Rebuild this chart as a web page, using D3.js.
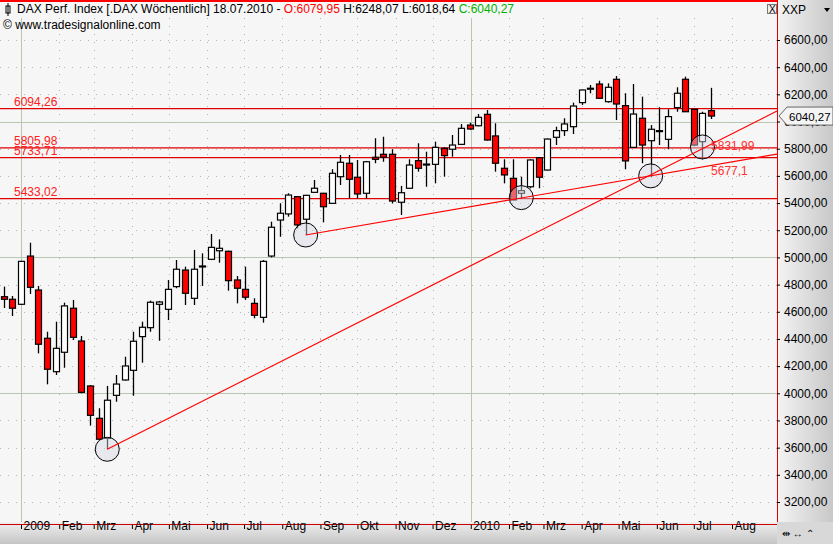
<!DOCTYPE html>
<html><head><meta charset="utf-8">
<script src="https://cdn.jsdelivr.net/npm/d3@7"></script>
<style>body{margin:0;background:#fff}svg{display:block;font-family:"Liberation Sans Narrow","Liberation Sans",Arial,sans-serif}</style>
</head><body><svg id="c" width="833" height="544"></svg>
<script>
const opens=[4711,4692,4655,5010,4760,4405,4159,4302,4626,4385,4054,3816,3669,3985,4098,4169,4417,4483,4655,4618,4785,4907,4699,4930,4986,5049,5045,4834,4765,4662,4559,5010,5275,5320,5447,5281,5479,5472,5398,5594,5693,5590,5472,5737,5759,5759,5406,5509,5712,5680,5685,5803,5796,5832,5974,5969,6053,5894,5656,5582,5472,5520,5734,5643,5884,5933,5962,6139,6240,6276,6146,6311,6117,5810,6024,5859,5930,5869,6102,6311,6090,5852,6079.95];
const highs=[4785,4716,4975,5108,4790,4453,4527,4667,4687,4422,4060,3890,4054,4135,4269,4453,4527,4682,4680,4834,4981,4932,5055,5030,5172,5133,5050,4863,4932,4699,4980,5263,5398,5472,5450,5460,5570,5475,5649,5754,5754,5717,5710,5877,5888,5796,5526,5722,5840,5778,5852,5810,5901,5982,5991,6055,6085,5987,5722,5722,5594,5722,5737,5875,5962,6024,6139,6235,6269,6300,6281,6335,6208,6276,6183,5974,6105,6090,6252,6330,6095,6072,6248.07];
const lows=[4628,4569,4650,4731,4294,4066,4135,4188,4392,4000,3762,3655,3588,3938,4093,3982,4225,4453,4387,4539,4773,4650,4650,4790,4980,4961,4755,4662,4687,4552,4520,5000,5152,5300,5214,5165,5475,5258,5395,5533,5435,5435,5435,5693,5704,5398,5312,5505,5631,5520,5545,5594,5741,5827,5938,5965,5860,5631,5545,5420,5430,5509,5509,5640,5827,5894,5908,6122,6208,6168,6139,6011,5649,5805,5693,5590,5827,5796,6072,6070,5822,5722,6018.64];
const closes=[4692,4626,4971,4780,4361,4177,4331,4643,4412,4007,3838,3662,3949,4068,4201,4383,4486,4670,4672,4765,4913,4736,4913,4937,5074,5067,4829,4773,4707,4574,4971,5222,5325,5459,5239,5457,5509,5373,5619,5700,5575,5467,5704,5722,5737,5415,5476,5680,5656,5687,5810,5749,5827,5950,5945,6031,5864,5693,5607,5423,5491,5717,5590,5871,5933,5982,6114,6232,6245,6171,6252,6129,5710,6055,5827,5943,5933,6036,6208,6072,5827,6060,6040.27];
const hLevels=[6094.26,5805.98,5733.71,5433.02];
const hLabels=["6094,26","5805,98","5733,71","5433,02"];
const trendFromIdx=[12,35], trendFromVal=[3588,5165], trendToVal=[5831.99,5677.1];
const trendLabels=["5831,99","5677,1"];
const circleIdx=[12,35,60,75,81], circleVals=[3588,5165,5440,5600,5813];
const yTicks=[3200,3400,3600,3800,4000,4200,4400,4600,4800,5000,5200,5400,5600,5800,6000,6200,6400,6600];
const monthLabels=["2009","Feb","Mrz","Apr","Mai","Jun","Jul","Aug","Sep","Okt","Nov","Dez","2010","Feb","Mrz","Apr","Mai","Jun","Jul","Aug"];

const svg=d3.select("#c");
const n=opens.length;
const lastMon=new Date(2010,6,12);
const dates=d3.range(n).map(i=>d3.timeDay.offset(lastMon,-(n-1-i)*7+3));
const months=monthLabels.map((m,i)=>new Date(2009,i,1));
const x=d3.scaleTime().domain([new Date(2009,0,1),new Date(2010,7,1)]).range([21,732]);
const y=d3.scaleLinear().domain([3200,6600]).range([502,40]);
const R=777, B=522;

svg.append("rect").attr("width",833).attr("height",544).attr("fill","#f6f6f6");
const g=svg.append("g");
yTicks.forEach(v=>{
  const solid=v%1000===0;
  g.append("line").attr("x1",0).attr("x2",R).attr("y1",Math.round(y(v))+.5).attr("y2",Math.round(y(v))+.5)
   .attr("stroke",solid?"#b8c8b0":"#b5b5b5").attr("stroke-dasharray",solid?null:"1,7");
});
months.forEach((d,i)=>{
  const solid=i%12===0;
  g.append("line").attr("y1",18).attr("y2",B).attr("x1",Math.round(x(d))+.5).attr("x2",Math.round(x(d))+.5)
   .attr("stroke",solid?"#b8c8b0":"#b5b5b5").attr("stroke-dasharray",solid?null:"1,7");
});
hLevels.forEach((v,i)=>{
  svg.append("line").attr("x1",0).attr("x2",R).attr("y1",y(v)).attr("y2",y(v)).attr("stroke","#e00000").attr("stroke-width",1.2);
  svg.append("text").attr("x",14).attr("y",y(v)-3).attr("fill","#ff2020").attr("font-size",12).text(hLabels[i]);
});
const cw=6;
const cg=svg.append("g");
for(let i=0;i<n;i++){
  const cx=Math.round(x(dates[i]))+.5;
  cg.append("line").attr("x1",cx).attr("x2",cx).attr("y1",y(highs[i])).attr("y2",y(lows[i])).attr("stroke","#000").attr("stroke-width",1.3);
  const top=y(Math.max(opens[i],closes[i])), bot=y(Math.min(opens[i],closes[i]));
  cg.append("rect").attr("x",cx-cw/2).attr("y",top).attr("width",cw).attr("height",Math.max(bot-top,1))
   .attr("fill",closes[i]<opens[i]?"#ff0000":"#ffffff").attr("stroke","#000").attr("stroke-width",1.2);
}
circleIdx.forEach((ci,k)=>{
  svg.append("circle").attr("cx",x(dates[ci])).attr("cy",y(circleVals[k])).attr("r",12)
   .attr("fill","rgba(215,215,230,0.45)").attr("stroke","#000").attr("stroke-width",1);
});
trendFromIdx.forEach((ti,k)=>{
  const x0=x(dates[ti]), y0=y(trendFromVal[k]), x1=x(dates[n-1]), y1=y(trendToVal[k]);
  const s=(y1-y0)/(x1-x0);
  svg.append("line").attr("x1",x0).attr("y1",y0).attr("x2",R).attr("y2",y0+s*(R-x0)).attr("stroke","#ff0000").attr("stroke-width",1.2);
  svg.append("text").attr("x",x1).attr("y",y1+(k===0?6:10)).attr("fill","#ff3030").attr("font-size",12).text(trendLabels[k]);
});
const defs=svg.append("defs");
const grad=defs.append("linearGradient").attr("id","gr").attr("x1",0).attr("x2",1);
grad.append("stop").attr("offset",0).attr("stop-color","#f4f4f4");
grad.append("stop").attr("offset",1).attr("stop-color","#c8c8c8");
const gradB=defs.append("linearGradient").attr("id","gb").attr("x1",0).attr("x2",0).attr("y1",0).attr("y2",1);
gradB.append("stop").attr("offset",0).attr("stop-color","#f0f0f0");
gradB.append("stop").attr("offset",1).attr("stop-color","#c4c4c4");
svg.append("rect").attr("x",R).attr("y",0).attr("width",56).attr("height",B).attr("fill","url(#gr)");
svg.append("line").attr("x1",R+.5).attr("x2",R+.5).attr("y1",0).attr("y2",B).attr("stroke","#e00000");
const ya=svg.append("g").attr("transform",`translate(${R},0)`)
 .call(d3.axisRight(y).tickValues(yTicks).tickSize(3).tickFormat(v=>d3.format(".2f")(v).replace(".",",")));
ya.select(".domain").remove();
ya.selectAll("text").attr("font-size",12).attr("font-family","Liberation Sans Narrow, Arial").attr("fill","#000").attr("x",7);
ya.selectAll("line").attr("stroke","#000");
const lv=closes[n-1], ly=y(lv);
svg.append("path").attr("d",`M${R+2},${ly} L${R+10},${ly-9} L833,${ly-9} L833,${ly+9} L${R+10},${ly+9} Z`).attr("fill","#f4f4f4").attr("stroke","#666");
svg.append("text").attr("x",R+12).attr("y",ly+4.5).attr("font-size",11.5).text(d3.format(".2f")(lv).replace(".",","));
svg.append("text").attr("x",782).attr("y",14).attr("font-size",12).text("XXP");
svg.append("path").attr("d","M824,8 L830,8 L827,12 Z").attr("fill","#000");
svg.append("rect").attr("x",0).attr("y",B).attr("width",R).attr("height",544-B).attr("fill","url(#gb)");
svg.append("line").attr("x1",0).attr("x2",R).attr("y1",B+2.5).attr("y2",B+2.5).attr("stroke","#cc0000").attr("stroke-width",1.2);
const xa=svg.append("g").attr("transform",`translate(0,${B+3})`)
 .call(d3.axisBottom(x).tickValues(months).tickSize(4).tickFormat((d,i)=>monthLabels[i]));
xa.select(".domain").remove();
xa.selectAll("line").attr("stroke","#000");
xa.selectAll("text").attr("font-size",12).attr("font-family","Liberation Sans Narrow, Arial").attr("fill","#000").attr("text-anchor","start").attr("dx",2).attr("dy",-2);
svg.append("rect").attr("x",R).attr("y",B).attr("width",56).attr("height",22).attr("fill","#d8d8d8");
svg.append("text").attr("x",782).attr("y",537).attr("font-size",10).text("⇹ ↔ ⌃");
svg.append("line").attr("x1",0).attr("x2",R).attr("y1",1).attr("y2",1).attr("stroke","#ff0000").attr("stroke-width",2);
const ht=svg.append("text").attr("x",17).attr("y",13).attr("font-size",12);
ht.append("tspan").text("DAX Perf. Index [.DAX  Wöchentlich] 18.07.2010 - ");
ht.append("tspan").attr("fill","#ff0000").text("O:6079,95");
ht.append("tspan").text(" H:6248,07 L:6018,64 ");
ht.append("tspan").attr("fill","#00b000").text("C:6040,27");
svg.append("rect").attr("x",6).attr("y",6).attr("width",4).attr("height",7).attr("fill","none").attr("stroke","#000");
svg.append("line").attr("x1",8).attr("x2",8).attr("y1",3).attr("y2",16).attr("stroke","#000");
svg.append("text").attr("x",3).attr("y",29).attr("font-size",12).text("© www.tradesignalonline.com");
svg.append("rect").attr("x",767.5).attr("y",4.5).attr("width",9).attr("height",9).attr("fill","#eee").attr("stroke","#777");
svg.append("text").attr("x",769).attr("y",13).attr("font-size",10).text("X");
</script></body></html>
